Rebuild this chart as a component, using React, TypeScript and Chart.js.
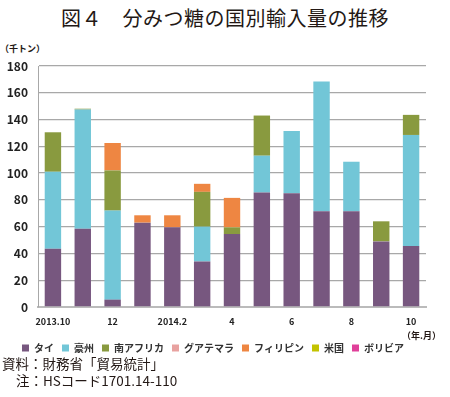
import React, { useEffect, useRef } from "react";
import { Chart, registerables } from "chart.js";

Chart.register(...registerables);

const months = ["2013.10", "11", "12", "2014.1", "2014.2", "3", "4", "5", "6", "7", "8", "9", "10"];
const thai = [43.5, 58.5, 5.5, 63, 59.5, 34, 54.5, 85.5, 85, 71.5, 71.5, 49, 45.5];
const australia = [57.5, 89, 66.5, 0, 0, 26, 0, 27.5, 46.5, 97, 37, 0, 83];
const southAfrica = [29.5, 0.6, 30, 0, 0, 26, 5, 30, 0, 0, 0, 15, 15];
const guatemala = [0, 0, 0, 0, 0, 0, 0, 0, 0, 0, 0, 0, 0];
const philippines = [0, 0, 20.5, 5.5, 9, 6, 22, 0, 0, 0, 0, 0, 0];
const usa = [0, 0, 0, 0, 0, 0, 0, 0, 0, 0, 0, 0, 0];
const bolivia = [0, 0, 0, 0, 0, 0, 0, 0, 0, 0, 0, 0, 0];
const seriesNames = ["タイ", "豪州", "南アフリカ", "グアテマラ", "フィリピン", "米国", "ボリビア"];
const seriesColors = ["#77577F", "#72C6D7", "#899A3F", "#E8A2A0", "#EE8642", "#C3C300", "#E0409A"];
const yTicks = [0, 20, 40, 60, 80, 100, 120, 140, 160, 180];

const JP = '"Noto Sans CJK JP", "Noto Sans", sans-serif';

export default function App() {
  const ref = useRef<HTMLCanvasElement>(null);
  useEffect(() => {
    document.body.style.margin = "0";
    const values = [thai, australia, southAfrica, guatemala, philippines, usa, bolivia];
    const chart = new Chart(ref.current!, {
      type: "bar",
      data: {
        labels: months,
        datasets: values.map((v, i) => ({
          label: seriesNames[i],
          data: v,
          backgroundColor: seriesColors[i],
          borderWidth: 0,
          barPercentage: 0.55,
          categoryPercentage: 1,
        })),
      },
      options: {
        animation: false,
        responsive: false,
        maintainAspectRatio: false,
        layout: { padding: { left: 0, right: 24, top: 26, bottom: 0 } },
        plugins: {
          tooltip: { enabled: false },
          legend: {
            position: "bottom",
            labels: {
              boxWidth: 7,
              boxHeight: 7,
              padding: 8,
              color: "#333",
              font: { family: JP, size: 10, weight: "bold" },
            },
          },
        },
        scales: {
          x: {
            stacked: true,
            afterFit: (s: any) => {
              s.height = 28;
            },
            grid: { display: false },
            border: { color: "#BBBBBB", width: 2 },
            ticks: {
              autoSkip: false,
              maxRotation: 0,
              padding: 1,
              color: "#222",
              font: { family: JP, size: 9, weight: "bold" },
              callback: (_v: any, i: number) => (i % 2 === 0 ? months[i] : ""),
            },
          },
          y: {
            stacked: true,
            min: 0,
            max: 180,
            afterFit: (s: any) => {
              s.width = 38;
            },
            afterBuildTicks: (s: any) => {
              s.ticks = yTicks.map((v) => ({ value: v }));
            },
            grid: { color: "#A8A8A8", lineWidth: 1.3, drawTicks: false },
            border: { color: "#A8A8A8", width: 1 },
            ticks: {
              padding: 10,
              color: "#222",
              font: { family: JP, size: 12, weight: "bold" },
            },
          },
        },
      },
    });
    return () => chart.destroy();
  }, []);

  return (
    <div style={{ position: "relative", width: 450, height: 397, background: "#fff", fontFamily: JP, color: "#231815" }}>
      <div style={{ position: "absolute", top: 3, left: 0, width: 450, textAlign: "center", fontSize: 20, fontWeight: 400, letterSpacing: 0.5 }}>
        図４　分みつ糖の国別輸入量の推移
      </div>
      <div style={{ position: "absolute", top: 42, left: 0, fontSize: 9, fontWeight: "bold" }}>（千トン）</div>
      <canvas ref={ref} width={450} height={323} style={{ position: "absolute", top: 40, left: 0 }} />
      <div style={{ position: "absolute", top: 329, left: 402, fontSize: 9, fontWeight: "bold" }}>（年.月）</div>
      <div style={{ position: "absolute", top: 355, left: 2, fontSize: 13.5, lineHeight: "17px" }}>
        <div>資料：財務省「貿易統計」</div>
        <div style={{ paddingLeft: 14 }}>注：HSコード1701.14-110</div>
      </div>
    </div>
  );
}
